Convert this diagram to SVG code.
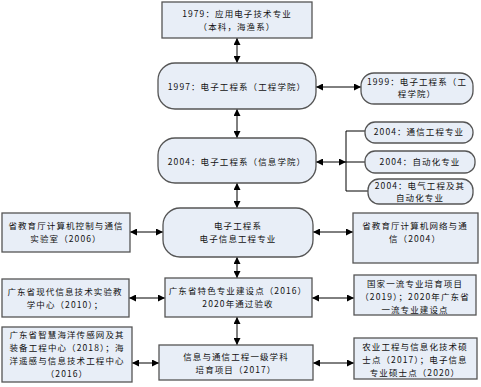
<svg xmlns="http://www.w3.org/2000/svg" width="481" height="387" viewBox="0 0 481 387">
<defs>
<marker id="ah" viewBox="0 0 10 10" refX="10" refY="5" markerWidth="7" markerHeight="7" markerUnits="userSpaceOnUse" orient="auto-start-reverse">
<path d="M0,0 L10,5 L0,10 z" fill="#000"/>
</marker>
<style>
.n{fill:#E8EEF7;stroke:#555;stroke-width:1.3}
.t{font-family:"Noto Sans CJK SC","Liberation Sans",sans-serif;font-size:8.5px;letter-spacing:1.1px;fill:#111;text-anchor:middle}
.c{stroke:#000;stroke-width:1;fill:none}
.a{marker-start:url(#ah);marker-end:url(#ah)}
</style>
</defs>
<rect width="481" height="387" fill="#fff"/>
<g id="connectors">
<line class="c a" x1="237" y1="38" x2="237" y2="63"/>
<line class="c a" x1="237" y1="109" x2="237" y2="138"/>
<line class="c a" x1="237" y1="183" x2="237" y2="208"/>
<line class="c a" x1="237" y1="257" x2="237" y2="278"/>
<line class="c a" x1="237" y1="317" x2="237" y2="345"/>
<line class="c a" x1="316" y1="87" x2="361" y2="87"/>
<line class="c a" x1="316" y1="162" x2="346" y2="162"/>
<path class="c" d="M365,131 H346 V191 H368 M346,162 H365"/>
<line class="c a" x1="130" y1="232" x2="163" y2="232"/>
<line class="c a" x1="313" y1="232" x2="353" y2="232"/>
<line class="c a" x1="129" y1="298" x2="165" y2="298"/>
<line class="c a" x1="312" y1="298" x2="354" y2="298"/>
<line class="c a" x1="132" y1="363" x2="159" y2="363"/>
<line class="c a" x1="313" y1="363" x2="354" y2="363"/>
</g>
<g id="n1979"><rect class="n" x="162" y="2" width="150" height="36"/>
<text class="t" x="237" y="17">1979：应用电子技术专业</text><text class="t" x="237" y="30">（本科，海渔系）</text></g>
<g id="n1997"><rect class="n" x="158" y="63" width="158" height="46" rx="17"/>
<text class="t" x="237" y="90">1997：电子工程系（工程学院）</text></g>
<g id="n1999"><rect class="n" x="361" y="73" width="112" height="31" rx="13"/>
<text class="t" x="417" y="85">1999：电子工程系（工</text><text class="t" x="417" y="97">程学院）</text></g>
<g id="n2004"><rect class="n" x="158" y="138" width="158" height="45" rx="17"/>
<text class="t" x="237" y="165">2004：电子工程系（信息学院）</text></g>
<g id="n2004a"><rect class="n" x="365" y="122" width="108" height="21" rx="10"/>
<text class="t" x="419" y="135">2004：通信工程专业</text></g>
<g id="n2004b"><rect class="n" x="365" y="151" width="110" height="22" rx="10"/>
<text class="t" x="420" y="165">2004：自动化专业</text></g>
<g id="n2004c"><rect class="n" x="368" y="179" width="105" height="25" rx="11"/>
<text class="t" x="420" y="189">2004：电气工程及其</text><text class="t" x="420" y="201">自动化专业</text></g>
<g id="nDept"><rect class="n" x="163" y="208" width="150" height="49" rx="17"/>
<text class="t" x="238" y="229">电子工程系</text><text class="t" x="238" y="242">电子信息工程专业</text></g>
<g id="nLab1"><rect class="n" x="2" y="213" width="128" height="39"/>
<text class="t" x="66" y="229">省教育厅计算机控制与通信</text><text class="t" x="66" y="242">实验室（2006）</text></g>
<g id="nLab2"><rect class="n" x="353" y="213" width="125" height="50"/>
<text class="t" x="415" y="229">省教育厅计算机网络与通</text><text class="t" x="415" y="242">信（2004）</text></g>
<g id="nSpec"><rect class="n" x="165" y="278" width="147" height="39"/>
<text class="t" x="238" y="294">广东省特色专业建设点（2016）</text><text class="t" x="238" y="307">2020年通过验收</text></g>
<g id="nEdu"><rect class="n" x="2" y="279" width="127" height="38"/>
<text class="t" x="65" y="295">广东省现代信息技术实验教</text><text class="t" x="65" y="308">学中心（2010）；</text></g>
<g id="nFirst"><rect class="n" x="354" y="275" width="122" height="40"/>
<text class="t" x="415" y="287">国家一流专业培育项目</text><text class="t" x="415" y="300">（2019）；2020年广东省</text><text class="t" x="415" y="313">一流专业建设点</text></g>
<g id="nDisc"><rect class="n" x="159" y="345" width="154" height="35"/>
<text class="t" x="236" y="360">信息与通信工程一级学科</text><text class="t" x="236" y="373">培育项目（2017）</text></g>
<g id="nOcean"><rect class="n" x="2" y="327" width="130" height="55"/>
<text class="t" x="67" y="338">广东省智慧海洋传感网及其</text><text class="t" x="67" y="351">装备工程中心（2018）；海</text><text class="t" x="67" y="364">洋遥感与信息技术工程中心</text><text class="t" x="67" y="377">（2016）</text></g>
<g id="nMaster"><rect class="n" x="354" y="338" width="123" height="41"/>
<text class="t" x="415" y="350">农业工程与信息化技术硕</text><text class="t" x="415" y="363">士点（2017）；电子信息</text><text class="t" x="415" y="376">专业硕士点（2020）</text></g>
</svg>
